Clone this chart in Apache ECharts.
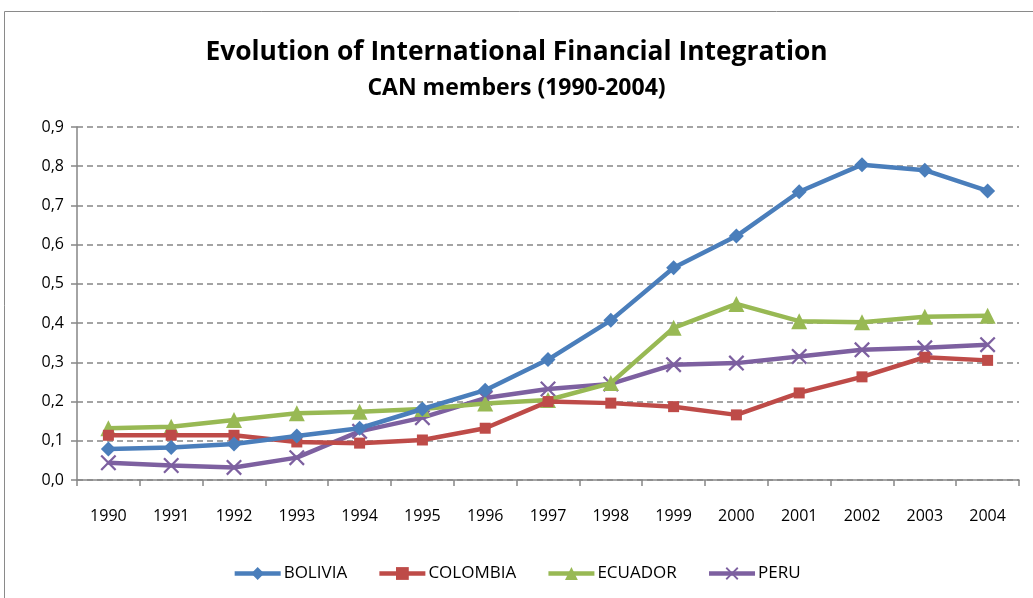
<!DOCTYPE html>
<html>
<head>
<meta charset="utf-8">
<script src="https://cdn.jsdelivr.net/npm/echarts@6/dist/echarts.min.js"></script>
<style>html,body{margin:0;padding:0;background:#fff}#c{width:1033px;height:598px}</style>
</head>
<body>
<div id="c"></div>
<script>
const years = ['1990','1991','1992','1993','1994','1995','1996','1997','1998','1999','2000','2001','2002','2003','2004'];
const bolivia  = [0.079,0.083,0.092,0.112,0.132,0.181,0.229,0.307,0.407,0.541,0.622,0.735,0.804,0.790,0.737];
const colombia = [0.114,0.114,0.114,0.097,0.094,0.102,0.132,0.200,0.196,0.187,0.166,0.222,0.263,0.313,0.305];
const ecuador  = [0.132,0.136,0.153,0.170,0.174,0.181,0.195,0.204,0.247,0.388,0.449,0.405,0.402,0.416,0.419];
const peru     = [0.044,0.037,0.032,0.057,0.124,0.159,0.209,0.232,0.245,0.294,0.298,0.315,0.332,0.337,0.345];
const seriesNames = ['BOLIVIA','COLOMBIA','ECUADOR','PERU'];
const yTicks = [0,0.1,0.2,0.3,0.4,0.5,0.6,0.7,0.8,0.9];

const FONT = '"Open Sans", sans-serif';
const colors = ['#4A7EBB','#BE4B48','#98B954','#7D60A0'];
const xSym = 'path://M0,1.2L1.2,0L6,4.8L10.8,0L12,1.2L7.2,6L12,10.8L10.8,12L6,7.2L1.2,12L0,10.8L4.8,6Z';
const symbols = ['diamond','rect','triangle',xSym];
const sizes = [15,11,16,16];
const datas = [bolivia,colombia,ecuador,peru];

const chart = echarts.init(document.getElementById('c'));
chart.setOption({
  animation:false,
  backgroundColor:'#fff',
  graphic:[{type:'rect',shape:{x:4.5,y:11.5,width:1200,height:800},style:{fill:'none',stroke:'#8a8a8a',lineWidth:1},silent:true,z:-10}],
  title:[
    {text:'Evolution of International Financial Integration',left:'center',top:34,
     textStyle:{fontFamily:FONT,fontWeight:'bold',fontSize:26.4,color:'#000'}},
    {text:'CAN members (1990-2004)',left:'center',top:72,
     textStyle:{fontFamily:FONT,fontWeight:'bold',fontSize:23,color:'#000'}}
  ],
  legend:{
    data:seriesNames, bottom:11, left:'center', itemWidth:46, itemHeight:16, itemGap:30,
    lineStyle:{width:4.5},
    textStyle:{fontFamily:FONT,fontSize:17,color:'#000',padding:[0,0,0,-2]}
  },
  grid:{left:77,right:14,top:127,bottom:118},
  xAxis:{
    type:'category', data:years, boundaryGap:true,
    axisLine:{lineStyle:{color:'#868686',width:1.5}},
    axisTick:{show:true,length:6,alignWithLabel:false,lineStyle:{color:'#868686',width:1.5}},
    axisLabel:{fontFamily:FONT,fontSize:16,color:'#000',margin:28}
  },
  yAxis:{
    type:'value', min:0, max:0.9, interval:0.1,
    axisLine:{show:true,lineStyle:{color:'#868686',width:1.5}},
    axisTick:{show:true,length:6,lineStyle:{color:'#868686',width:1.5}},
    axisLabel:{fontFamily:FONT,fontSize:16,color:'#000',margin:13,
      formatter:v=>v.toFixed(1).replace('.',',')},
    splitLine:{show:true,lineStyle:{color:'#868686',type:[6,4],width:1.5}}
  },
  series:seriesNames.map((n,i)=>({
    name:n,type:'line',data:datas[i],symbol:symbols[i],symbolSize:sizes[i],
    showAllSymbol:true,
    lineStyle:{color:colors[i],width:4.5},
    itemStyle:{color:colors[i]},
    z:10-i
  }))
});
</script>
</body>
</html>
